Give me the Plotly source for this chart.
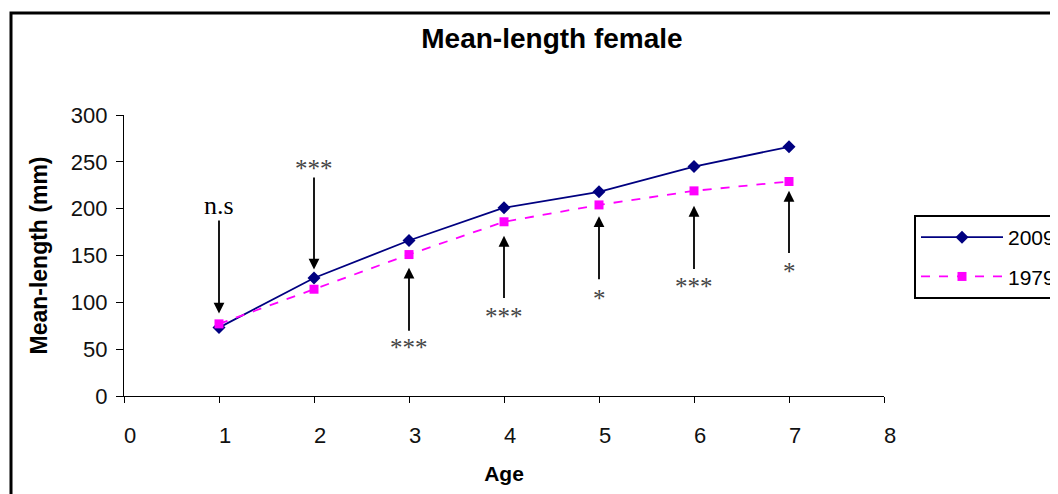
import plotly.graph_objects as go

ages = [1, 2, 3, 4, 5, 6, 7]
len_2009 = [73, 126, 166, 201, 218, 245, 266]
len_1979 = [77, 114, 151, 186, 204, 219, 229]

sig_labels = ["n.s", "***", "***", "***", "*", "***", "*"]
arrow_tip = [88, 135, 137, 171, 192, 203, 219]
arrow_tail = [189, 235, 68, 103, 123, 134, 151]
label_y = [203, 243, 52, 85, 104, 117, 133]

# page body has an 8px margin, so the figure is drawn 8px in from the window corner
W, H = 1050, 486
L, T = 116, 107
PW, PH = 760, 281
R = W - L - PW
B = H - T - PH

fig = go.Figure()
fig.add_trace(go.Scatter(
    x=ages, y=len_2009, name="2009", mode="lines+markers",
    line=dict(color="#000080", width=1.8),
    marker=dict(symbol="diamond", size=10, color="#000080"),
    legendgroup="a"))
fig.add_trace(go.Scatter(
    x=ages, y=len_1979, name="1979", mode="lines+markers",
    line=dict(color="#FF00FF", width=1.8, dash="dash"),
    marker=dict(symbol="square", size=9, color="#FF00FF"),
    legendgroup="b"))

for a, tip, tail, lab, ly in zip(ages, arrow_tip, arrow_tail, sig_labels, label_y):
    fig.add_annotation(x=a, y=tip, ax=a, ay=tail, xref="x", yref="y",
                       axref="x", ayref="y", text="", showarrow=True,
                       arrowhead=2, arrowsize=1.2, arrowwidth=1.8,
                       arrowcolor="black", standoff=0, startstandoff=0)
    if lab == "n.s":
        fnt = dict(family="Liberation Serif", size=26, color="black")
    else:
        fnt = dict(family="Liberation Serif", size=25, color="#444444")
    fig.add_annotation(x=a, y=ly, xref="x", yref="y", text=lab,
                       showarrow=False, font=fnt)

# outer frame (window coords -> paper coords)
def px_x(px):
    return (px - 8 - L) / PW

def px_y(py):
    return (H - B - (py - 8)) / PH

fig.add_shape(type="rect", xref="paper", yref="paper",
              x0=px_x(11), x1=px_x(1090), y0=px_y(530), y1=px_y(13),
              line=dict(color="black", width=3), fillcolor="rgba(0,0,0,0)",
              layer="above")

axis_font = dict(family="Liberation Sans", size=22, color="#111111")
fig.update_layout(
    width=W, height=H,
    margin=dict(l=L, r=R, t=T, b=B, autoexpand=False),
    paper_bgcolor="white", plot_bgcolor="white",
    title=dict(text="<b>Mean-length female</b>", x=(552 - 8) / W, xref="container",
               xanchor="center", y=1 - (38 - 8) / H, yref="container", yanchor="middle",
               font=dict(family="Liberation Sans", size=28, color="black")),
    xaxis=dict(range=[0, 8], tickvals=list(range(0, 9)), showgrid=False,
               zeroline=False, showline=True, linecolor="black", linewidth=1.2,
               ticks="outside", ticklen=6, tickcolor="black", tickwidth=1,
               tickfont=axis_font, ticklabelstandoff=13, ticklabelshift=6,
               title=dict(text="<b>Age</b>", standoff=19,
                          font=dict(family="Liberation Sans", size=21, color="black"))),
    yaxis=dict(range=[0, 300], tickvals=[0, 50, 100, 150, 200, 250, 300],
               showgrid=False, zeroline=False, showline=True, linecolor="black",
               linewidth=1.2, ticks="outside", ticklen=7, tickcolor="black",
               tickwidth=1, tickfont=axis_font, ticklabelstandoff=4,
               title=dict(text="<b>Mean-length (mm)</b>", standoff=16,
                          font=dict(family="Liberation Sans", size=23, color="black"))),
    legend=dict(x=px_x(914), xanchor="left", y=px_y(215),
                yanchor="top", bordercolor="black", borderwidth=2,
                bgcolor="white", traceorder="grouped", tracegroupgap=9,
                itemwidth=82,
                font=dict(family="Liberation Sans", size=21, color="black")),
    showlegend=True,
)

fig.write_html("out.html")
